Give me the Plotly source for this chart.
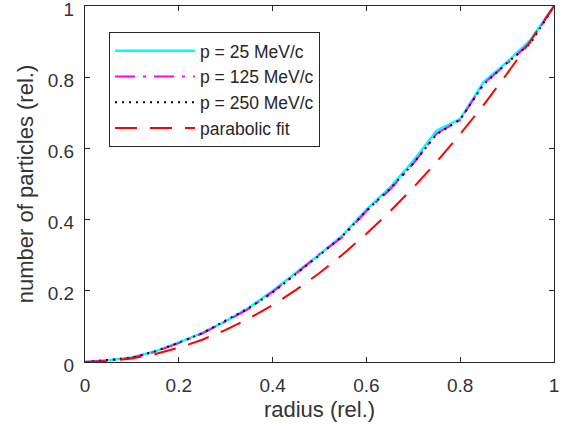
import plotly.graph_objects as go

radius = [0.0, 0.05, 0.10, 0.15, 0.20, 0.25, 0.30, 0.35, 0.40, 0.45, 0.50,
          0.55, 0.60, 0.65, 0.70, 0.75, 0.80, 0.85, 0.90, 0.95, 1.0]
p25 = [0.0, 0.005, 0.013, 0.030, 0.055, 0.082, 0.115, 0.153, 0.200, 0.250, 0.302,
       0.357, 0.428, 0.490, 0.565, 0.650, 0.683, 0.787, 0.843, 0.905, 1.0]
p125 = [0.0, 0.004, 0.012, 0.029, 0.053, 0.080, 0.114, 0.150, 0.197, 0.248, 0.303,
        0.352, 0.424, 0.484, 0.557, 0.642, 0.680, 0.782, 0.838, 0.898, 1.0]
p250 = [0.0, 0.005, 0.012, 0.030, 0.054, 0.081, 0.116, 0.152, 0.195, 0.247, 0.300,
        0.355, 0.425, 0.486, 0.558, 0.640, 0.681, 0.780, 0.840, 0.895, 1.0]
fit = [0.0, 0.0025, 0.010, 0.0225, 0.040, 0.0625, 0.090, 0.1225, 0.160, 0.2025, 0.250,
       0.3025, 0.360, 0.4225, 0.490, 0.5625, 0.640, 0.7225, 0.810, 0.9025, 1.0]

ticks = [0, 0.2, 0.4, 0.6, 0.8, 1]
tick_text = ["0", "0.2", "0.4", "0.6", "0.8", "1"]

FONT = "Liberation Sans, Arial, Helvetica, sans-serif"
TXT = "#333333"

fig = go.Figure()
fig.add_trace(go.Scatter(x=radius, y=p25, mode="lines", name="p = 25 MeV/c",
                         line=dict(color="#00FFFF", width=2.5)))
fig.add_trace(go.Scatter(x=radius, y=p125, mode="lines", name="p = 125 MeV/c",
                         line=dict(color="#FF00FF", width=2, dash="20px,8px,3px,8px")))
fig.add_trace(go.Scatter(x=radius, y=p250, mode="lines", name="p = 250 MeV/c",
                         line=dict(color="#000000", width=2, dash="2px,5px")))
fig.add_trace(go.Scatter(x=radius, y=fit, mode="lines", name="parabolic fit",
                         line=dict(color="#FF0000", width=2, dash="22px,13px")))

axis_common = dict(
    tickmode="array", tickvals=ticks, ticktext=tick_text,
    ticks="inside", ticklen=5, tickcolor="#262626", tickwidth=1,
    showline=True, linecolor="#262626", linewidth=1, mirror="ticks",
    showgrid=False, zeroline=False, range=[0, 1], automargin=False,
    ticklabeloverflow="allow",
    tickfont=dict(family=FONT, size=19, color=TXT),
)

fig.update_layout(
    width=562, height=429,
    margin=dict(l=85, r=8, t=6, b=67),
    paper_bgcolor="white", plot_bgcolor="white",
    font=dict(family=FONT, color=TXT),
    xaxis=dict(**axis_common, ticklabelstandoff=6,
               title=dict(text="radius (rel.)", font=dict(size=22, color=TXT), standoff=6)),
    yaxis=dict(**axis_common, ticklabelstandoff=6, ticklabelshift=3,
               title=dict(text="number of particles (rel.)", font=dict(size=22, color=TXT), standoff=8)),
    legend=dict(x=0.0512, y=0.927, xanchor="left", yanchor="top",
                bgcolor="white", bordercolor="#262626", borderwidth=1,
                font=dict(size=17.5, color="#262626"), itemwidth=80,
                tracegroupgap=0),
    showlegend=True,
)

fig.write_html("out.html", config={"displayModeBar": False},
               post_script="document.body.style.margin='0';")
